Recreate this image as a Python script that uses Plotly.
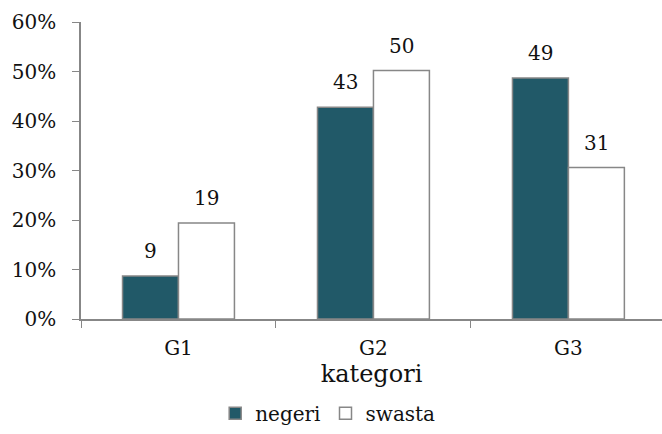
import plotly.graph_objects as go

categories = ["G1", "G2", "G3"]
negeri = [0.087, 0.428, 0.487]
swasta = [0.194, 0.502, 0.306]
y_ticks = [0, 0.1, 0.2, 0.3, 0.4, 0.5, 0.6]

FONT = "DejaVu Serif"
EDGE = "#878787"

fig = go.Figure()
fig.add_trace(go.Bar(name="negeri", x=categories, y=negeri,
                     marker=dict(color="#215968", line=dict(color=EDGE, width=1.5))))
fig.add_trace(go.Bar(name="swasta", x=categories, y=swasta,
                     marker=dict(color="#ffffff", line=dict(color=EDGE, width=1.5))))

for vals, shift in ((negeri, -28), (swasta, 28)):
    for c, v in zip(categories, vals):
        fig.add_annotation(x=c, y=v, text=f"{v*100:.0f}", showarrow=False,
                           xshift=shift, yshift=11, yanchor="bottom",
                           font=dict(family=FONT, size=20, color="#111"))

fig.update_layout(
    width=662, height=434,
    margin=dict(l=81, r=0, t=22, b=115),
    paper_bgcolor="white", plot_bgcolor="white",
    barmode="group", bargap=0.426, bargroupgap=0,
    font=dict(family=FONT, size=20, color="#111"),
    showlegend=True,
    legend=dict(orientation="h", xref="container", yref="container",
                x=0.495, xanchor="center", y=0.048, yanchor="middle",
                font=dict(family=FONT, size=20), traceorder="normal",
                itemwidth=30),
    xaxis=dict(range=[-0.5, 2.48], showline=True, linecolor=EDGE, linewidth=1.5,
               ticks="outside", tickson="boundaries", ticklen=7, tickcolor=EDGE,
               ticklabelstandoff=10,
               title=dict(text="kategori", font=dict(family=FONT, size=24), standoff=4),
               showgrid=False, zeroline=False),
    yaxis=dict(range=[0, 0.6], tickvals=y_ticks, tickformat=".0%",
               showline=True, linecolor=EDGE, linewidth=1.5,
               ticks="outside", ticklen=7, tickcolor=EDGE,
               ticklabelstandoff=12,
               tickfont=dict(family=FONT, size=20),
               showgrid=False, zeroline=False),
)

fig.write_html("out.html")
